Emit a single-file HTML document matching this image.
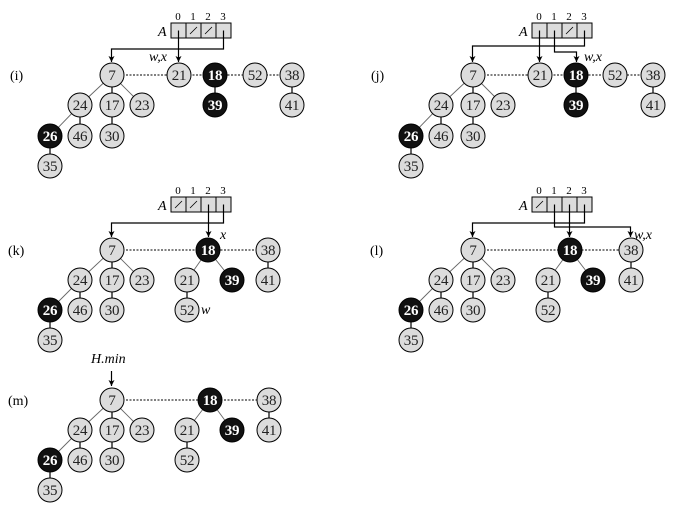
<!DOCTYPE html>
<html><head><meta charset="utf-8"><style>
html,body{margin:0;padding:0;background:#fff;}
svg{display:block;font-family:"Liberation Serif","Times New Roman",serif;}
svg text{font-family:"Liberation Serif","Times New Roman",serif !important;}
.n{fill:#dcdcdc;stroke:#000;stroke-width:1;}
.b{fill:#111;stroke:#000;stroke-width:1;}
.t{font-size:15px;text-anchor:middle;fill:#222;letter-spacing:-0.3px;}
.tb{font-size:15px;text-anchor:middle;fill:#fff;font-weight:bold;letter-spacing:-0.3px;}
.g{stroke:#666;stroke-width:0.9;}
.s{stroke:#000;stroke-width:1.2;}
.d{stroke:#000;stroke-width:1;stroke-dasharray:2,1.5;}
.p{stroke:#000;stroke-width:1.2;fill:none;}
.c{fill:#dcdcdc;stroke:#000;stroke-width:1;}
.i{font-size:11px;text-anchor:middle;}
.A{font-size:14px;font-style:italic;}
.lab{font-size:14px;}
.it{font-size:14px;font-style:italic;}
</style></head><body>
<svg width="674" height="508" viewBox="0 0 674 508" xmlns="http://www.w3.org/2000/svg" font-family="Liberation Serif, serif">
<defs><marker id="ar" markerWidth="8" markerHeight="8" refX="6" refY="3" orient="auto" markerUnits="userSpaceOnUse"><path d="M0,0 L6,3 L0,6 L1.5,3 z" fill="#000"/></marker></defs>

<!-- ================= (i) ================= -->
<text x="10" y="80" class="lab">(i)</text>
<g>
<text x="178" y="20" class="i">0</text><text x="193" y="20" class="i">1</text><text x="208" y="20" class="i">2</text><text x="223" y="20" class="i">3</text>
<text x="158" y="36" class="A">A</text>
<rect x="171" y="23" width="15" height="15" class="c"/><rect x="186" y="23" width="15" height="15" class="c"/><rect x="201" y="23" width="15" height="15" class="c"/><rect x="216" y="23" width="15" height="15" class="c"/>
<line x1="190" y1="34" x2="197" y2="27" stroke="#000" stroke-width="0.8"/><line x1="205" y1="34" x2="212" y2="27" stroke="#000" stroke-width="0.8"/>
<path d="M178.5,30.5 V62" class="p" marker-end="url(#ar)"/>
<path d="M223.5,30.5 V49 H111.5 V62" class="p" marker-end="url(#ar)"/>
<text x="149" y="61" class="it">w,x</text>
</g>
<line x1="112" y1="75" x2="292" y2="75" class="d"/>
<line x1="112" y1="75" x2="80" y2="105" class="g"/><line x1="112" y1="75" x2="142" y2="105" class="g"/><line x1="112" y1="75" x2="112" y2="105" class="s"/>
<line x1="80" y1="105" x2="50" y2="136" class="g"/><line x1="80" y1="105" x2="80" y2="136" class="s"/><line x1="112" y1="105" x2="112" y2="136" class="s"/>
<line x1="50" y1="136" x2="50" y2="166" class="s"/><line x1="215" y1="75" x2="215" y2="105" class="s"/><line x1="292" y1="75" x2="292" y2="105" class="s"/>
<circle cx="112" cy="75" r="12" class="n"/><text x="112" y="80" class="t">7</text>
<circle cx="179" cy="75" r="12" class="n"/><text x="179" y="80" class="t">21</text>
<circle cx="215" cy="75" r="12" class="b"/><text x="215" y="80" class="tb">18</text>
<circle cx="255" cy="75" r="12" class="n"/><text x="255" y="80" class="t">52</text>
<circle cx="292" cy="75" r="12" class="n"/><text x="292" y="80" class="t">38</text>
<circle cx="80" cy="105" r="12" class="n"/><text x="80" y="110" class="t">24</text>
<circle cx="112" cy="105" r="12" class="n"/><text x="112" y="110" class="t">17</text>
<circle cx="142" cy="105" r="12" class="n"/><text x="142" y="110" class="t">23</text>
<circle cx="215" cy="105" r="12" class="b"/><text x="215" y="110" class="tb">39</text>
<circle cx="292" cy="105" r="12" class="n"/><text x="292" y="110" class="t">41</text>
<circle cx="50" cy="136" r="12" class="b"/><text x="50" y="141" class="tb">26</text>
<circle cx="80" cy="136" r="12" class="n"/><text x="80" y="141" class="t">46</text>
<circle cx="112" cy="136" r="12" class="n"/><text x="112" y="141" class="t">30</text>
<circle cx="50" cy="166" r="12" class="n"/><text x="50" y="171" class="t">35</text>

<!-- ================= (j) ================= -->
<text x="371" y="80" class="lab">(j)</text>
<g>
<text x="539" y="20" class="i">0</text><text x="554" y="20" class="i">1</text><text x="569" y="20" class="i">2</text><text x="584" y="20" class="i">3</text>
<text x="519" y="36" class="A">A</text>
<rect x="532" y="23" width="15" height="15" class="c"/><rect x="547" y="23" width="15" height="15" class="c"/><rect x="562" y="23" width="15" height="15" class="c"/><rect x="577" y="23" width="15" height="15" class="c"/>
<line x1="566" y1="34" x2="573" y2="27" stroke="#000" stroke-width="0.8"/>
<path d="M539.5,30.5 V62" class="p" marker-end="url(#ar)"/>
<path d="M584.5,30.5 V46 H472.5 V62" class="p" marker-end="url(#ar)"/>
<path d="M554.5,30.5 V52 H576.5 V62" class="p" marker-end="url(#ar)"/>
<text x="584" y="61" class="it">w,x</text>
</g>
<line x1="473" y1="75" x2="653" y2="75" class="d"/>
<line x1="473" y1="75" x2="441" y2="105" class="g"/><line x1="473" y1="75" x2="503" y2="105" class="g"/><line x1="473" y1="75" x2="473" y2="105" class="s"/>
<line x1="441" y1="105" x2="411" y2="136" class="g"/><line x1="441" y1="105" x2="441" y2="136" class="s"/><line x1="473" y1="105" x2="473" y2="136" class="s"/>
<line x1="411" y1="136" x2="411" y2="166" class="s"/><line x1="576" y1="75" x2="576" y2="105" class="s"/><line x1="653" y1="75" x2="653" y2="105" class="s"/>
<circle cx="473" cy="75" r="12" class="n"/><text x="473" y="80" class="t">7</text>
<circle cx="540" cy="75" r="12" class="n"/><text x="540" y="80" class="t">21</text>
<circle cx="576" cy="75" r="12" class="b"/><text x="576" y="80" class="tb">18</text>
<circle cx="615" cy="75" r="12" class="n"/><text x="615" y="80" class="t">52</text>
<circle cx="653" cy="75" r="12" class="n"/><text x="653" y="80" class="t">38</text>
<circle cx="441" cy="105" r="12" class="n"/><text x="441" y="110" class="t">24</text>
<circle cx="473" cy="105" r="12" class="n"/><text x="473" y="110" class="t">17</text>
<circle cx="503" cy="105" r="12" class="n"/><text x="503" y="110" class="t">23</text>
<circle cx="576" cy="105" r="12" class="b"/><text x="576" y="110" class="tb">39</text>
<circle cx="653" cy="105" r="12" class="n"/><text x="653" y="110" class="t">41</text>
<circle cx="411" cy="136" r="12" class="b"/><text x="411" y="141" class="tb">26</text>
<circle cx="441" cy="136" r="12" class="n"/><text x="441" y="141" class="t">46</text>
<circle cx="473" cy="136" r="12" class="n"/><text x="473" y="141" class="t">30</text>
<circle cx="411" cy="166" r="12" class="n"/><text x="411" y="171" class="t">35</text>

<!-- ================= (k) ================= -->
<text x="8" y="255" class="lab">(k)</text>
<g>
<text x="178" y="194" class="i">0</text><text x="193" y="194" class="i">1</text><text x="208" y="194" class="i">2</text><text x="223" y="194" class="i">3</text>
<text x="158" y="210" class="A">A</text>
<rect x="171" y="197" width="15" height="15" class="c"/><rect x="186" y="197" width="15" height="15" class="c"/><rect x="201" y="197" width="15" height="15" class="c"/><rect x="216" y="197" width="15" height="15" class="c"/>
<line x1="175" y1="208" x2="182" y2="201" stroke="#000" stroke-width="0.8"/><line x1="190" y1="208" x2="197" y2="201" stroke="#000" stroke-width="0.8"/>
<path d="M208.5,204.5 V237" class="p" marker-end="url(#ar)"/>
<path d="M223.5,204.5 V223 H111.5 V237" class="p" marker-end="url(#ar)"/>
<text x="220" y="239" class="it">x</text>
</g>
<line x1="112" y1="250" x2="268" y2="250" class="d"/>
<line x1="112" y1="250" x2="80" y2="280" class="g"/><line x1="112" y1="250" x2="142" y2="280" class="g"/><line x1="112" y1="250" x2="112" y2="280" class="s"/>
<line x1="80" y1="280" x2="50" y2="310" class="g"/><line x1="80" y1="280" x2="80" y2="310" class="s"/><line x1="112" y1="280" x2="112" y2="310" class="s"/>
<line x1="50" y1="310" x2="50" y2="340" class="s"/>
<line x1="208" y1="250" x2="187" y2="280" class="g"/><line x1="208" y1="250" x2="232" y2="280" class="g"/><line x1="187" y1="280" x2="187" y2="310" class="s"/><line x1="268" y1="250" x2="268" y2="280" class="s"/>
<circle cx="112" cy="250" r="12" class="n"/><text x="112" y="255" class="t">7</text>
<circle cx="208" cy="250" r="12" class="b"/><text x="208" y="255" class="tb">18</text>
<circle cx="268" cy="250" r="12" class="n"/><text x="268" y="255" class="t">38</text>
<circle cx="80" cy="280" r="12" class="n"/><text x="80" y="285" class="t">24</text>
<circle cx="112" cy="280" r="12" class="n"/><text x="112" y="285" class="t">17</text>
<circle cx="142" cy="280" r="12" class="n"/><text x="142" y="285" class="t">23</text>
<circle cx="187" cy="280" r="12" class="n"/><text x="187" y="285" class="t">21</text>
<circle cx="232" cy="280" r="12" class="b"/><text x="232" y="285" class="tb">39</text>
<circle cx="268" cy="280" r="12" class="n"/><text x="268" y="285" class="t">41</text>
<circle cx="50" cy="310" r="12" class="b"/><text x="50" y="315" class="tb">26</text>
<circle cx="80" cy="310" r="12" class="n"/><text x="80" y="315" class="t">46</text>
<circle cx="112" cy="310" r="12" class="n"/><text x="112" y="315" class="t">30</text>
<circle cx="187" cy="310" r="12" class="n"/><text x="187" y="315" class="t">52</text>
<text x="201" y="314" class="it">w</text>
<circle cx="50" cy="340" r="12" class="n"/><text x="50" y="345" class="t">35</text>

<!-- ================= (l) ================= -->
<text x="370" y="255" class="lab">(l)</text>
<g>
<text x="539" y="194" class="i">0</text><text x="554" y="194" class="i">1</text><text x="569" y="194" class="i">2</text><text x="584" y="194" class="i">3</text>
<text x="519" y="210" class="A">A</text>
<rect x="532" y="197" width="15" height="15" class="c"/><rect x="547" y="197" width="15" height="15" class="c"/><rect x="562" y="197" width="15" height="15" class="c"/><rect x="577" y="197" width="15" height="15" class="c"/>
<line x1="536" y1="208" x2="543" y2="201" stroke="#000" stroke-width="0.8"/>
<path d="M569.5,204.5 V237" class="p" marker-end="url(#ar)"/>
<path d="M584.5,204.5 V223 H472.5 V237" class="p" marker-end="url(#ar)"/>
<path d="M554.5,204.5 V227 H630.5 V237" class="p" marker-end="url(#ar)"/>
<text x="634" y="239" class="it">w,x</text>
</g>
<line x1="473" y1="250" x2="631" y2="250" class="d"/>
<line x1="473" y1="250" x2="441" y2="280" class="g"/><line x1="473" y1="250" x2="503" y2="280" class="g"/><line x1="473" y1="250" x2="473" y2="280" class="s"/>
<line x1="441" y1="280" x2="411" y2="310" class="g"/><line x1="441" y1="280" x2="441" y2="310" class="s"/><line x1="473" y1="280" x2="473" y2="310" class="s"/>
<line x1="411" y1="310" x2="411" y2="340" class="s"/>
<line x1="570" y1="250" x2="548" y2="280" class="g"/><line x1="570" y1="250" x2="593" y2="280" class="g"/><line x1="548" y1="280" x2="548" y2="310" class="s"/><line x1="631" y1="250" x2="631" y2="280" class="s"/>
<circle cx="473" cy="250" r="12" class="n"/><text x="473" y="255" class="t">7</text>
<circle cx="570" cy="250" r="12" class="b"/><text x="570" y="255" class="tb">18</text>
<circle cx="631" cy="250" r="12" class="n"/><text x="631" y="255" class="t">38</text>
<circle cx="441" cy="280" r="12" class="n"/><text x="441" y="285" class="t">24</text>
<circle cx="473" cy="280" r="12" class="n"/><text x="473" y="285" class="t">17</text>
<circle cx="503" cy="280" r="12" class="n"/><text x="503" y="285" class="t">23</text>
<circle cx="548" cy="280" r="12" class="n"/><text x="548" y="285" class="t">21</text>
<circle cx="593" cy="280" r="12" class="b"/><text x="593" y="285" class="tb">39</text>
<circle cx="631" cy="280" r="12" class="n"/><text x="631" y="285" class="t">41</text>
<circle cx="411" cy="310" r="12" class="b"/><text x="411" y="315" class="tb">26</text>
<circle cx="441" cy="310" r="12" class="n"/><text x="441" y="315" class="t">46</text>
<circle cx="473" cy="310" r="12" class="n"/><text x="473" y="315" class="t">30</text>
<circle cx="548" cy="310" r="12" class="n"/><text x="548" y="315" class="t">52</text>
<circle cx="411" cy="340" r="12" class="n"/><text x="411" y="345" class="t">35</text>

<!-- ================= (m) ================= -->
<text x="8" y="405" class="lab">(m)</text>
<text x="91" y="363" class="it">H.min</text>
<path d="M111.5,371 V386" class="p" marker-end="url(#ar)"/>
<line x1="112" y1="400" x2="269" y2="400" class="d"/>
<line x1="112" y1="400" x2="80" y2="430" class="g"/><line x1="112" y1="400" x2="142" y2="430" class="g"/><line x1="112" y1="400" x2="112" y2="430" class="s"/>
<line x1="80" y1="430" x2="50" y2="460" class="g"/><line x1="80" y1="430" x2="80" y2="460" class="s"/><line x1="112" y1="430" x2="112" y2="460" class="s"/>
<line x1="50" y1="460" x2="50" y2="490" class="s"/>
<line x1="210" y1="400" x2="187" y2="430" class="g"/><line x1="210" y1="400" x2="232" y2="430" class="g"/><line x1="187" y1="430" x2="187" y2="460" class="s"/><line x1="269" y1="400" x2="269" y2="430" class="s"/>
<circle cx="112" cy="400" r="12" class="n"/><text x="112" y="405" class="t">7</text>
<circle cx="210" cy="400" r="12" class="b"/><text x="210" y="405" class="tb">18</text>
<circle cx="269" cy="400" r="12" class="n"/><text x="269" y="405" class="t">38</text>
<circle cx="80" cy="430" r="12" class="n"/><text x="80" y="435" class="t">24</text>
<circle cx="112" cy="430" r="12" class="n"/><text x="112" y="435" class="t">17</text>
<circle cx="142" cy="430" r="12" class="n"/><text x="142" y="435" class="t">23</text>
<circle cx="187" cy="430" r="12" class="n"/><text x="187" y="435" class="t">21</text>
<circle cx="232" cy="430" r="12" class="b"/><text x="232" y="435" class="tb">39</text>
<circle cx="269" cy="430" r="12" class="n"/><text x="269" y="435" class="t">41</text>
<circle cx="50" cy="460" r="12" class="b"/><text x="50" y="465" class="tb">26</text>
<circle cx="80" cy="460" r="12" class="n"/><text x="80" y="465" class="t">46</text>
<circle cx="112" cy="460" r="12" class="n"/><text x="112" y="465" class="t">30</text>
<circle cx="187" cy="460" r="12" class="n"/><text x="187" y="465" class="t">52</text>
<circle cx="50" cy="490" r="12" class="n"/><text x="50" y="495" class="t">35</text>
</svg>
</body></html>
